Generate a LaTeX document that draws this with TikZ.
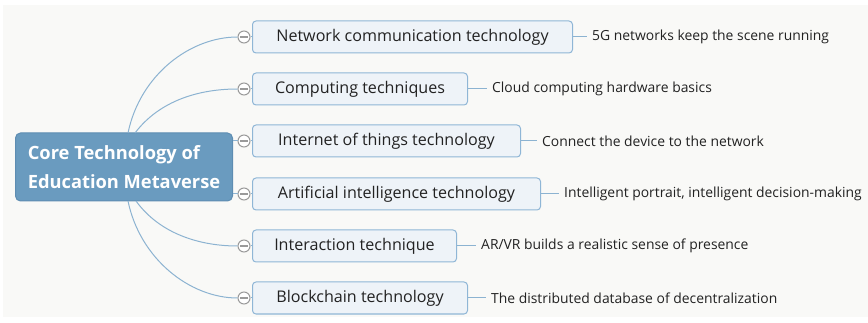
\documentclass[tikz,border=0pt]{standalone}
\usepackage{fontspec}
\setmainfont{Open Sans}
\usetikzlibrary{calc}
\definecolor{pagebg}{HTML}{F9F9F7}
\definecolor{rootfill}{HTML}{6A9BBF}
\definecolor{rootline}{HTML}{5E8DB2}
\definecolor{boxfill}{HTML}{EEF3F8}
\definecolor{boxline}{HTML}{8FB6D6}
\definecolor{wire}{HTML}{8CB3D1}
\definecolor{knob}{HTML}{9A9A9A}
\definecolor{ink}{HTML}{222222}
\tikzset{
  rootbox/.style={draw=rootline, line width=1pt, fill=rootfill, rounded corners=5pt,
    minimum width=217pt, minimum height=68pt, inner sep=0pt, text=white,
    font=\fontsize{18.3}{29}\selectfont\bfseries, align=left},
  branch/.style={draw=boxline, line width=1pt, fill=boxfill, rounded corners=3.5pt,
    minimum height=32pt, inner sep=0pt, anchor=west, text=ink,
    font=\fontsize{16.1}{18}\selectfont},
  leaf/.style={anchor=west, inner sep=0pt, text=ink, font=\fontsize{13.9}{15}\selectfont},
  knobc/.style={circle, draw=knob, line width=1pt, fill=white, minimum size=12pt, inner sep=0pt,
    path picture={\draw[knob, line width=1.1pt] ($(path picture bounding box.west)+(2pt,0)$) -- ($(path picture bounding box.east)+(-2pt,0)$);}},
  wireline/.style={draw=wire, line width=1pt},
  leafline/.style={draw=wire, line width=1pt},
}
\begin{document}
\begin{tikzpicture}[x=1pt, y=-1pt]
\useasboundingbox (0,0) rectangle (868,323);
\fill[pagebg] (3,5) rectangle (868,317);

% central topic
\node[rootbox] (root) at (124,167) {Core Technology of\\Education Metaverse};

% collapse knobs
\node[knobc] (k1) at (244,37) {};
\node[knobc] (k2) at (244,89) {};
\node[knobc] (k3) at (244,141) {};
\node[knobc] (k4) at (244,194) {};
\node[knobc] (k5) at (244,246) {};
\node[knobc] (k6) at (244,298) {};

% branch topics
\node[branch, minimum width=320pt] (b1) at (252,37) {Network communication technology};
\node[branch, minimum width=215pt] (b2) at (252,89) {Computing techniques};
\node[branch, minimum width=268pt] (b3) at (252,141) {Internet of things technology};
\node[branch, minimum width=288pt] (b4) at (252,194) {Artificial intelligence technology};
\node[branch, minimum width=204pt] (b5) at (252,246) {Interaction technique};
\node[branch, minimum width=215pt] (b6) at (252,298) {Blockchain technology};

% curved links from the central topic
\coordinate (r1) at (128,133);
\coordinate (r2) at (135,133);
\coordinate (r5) at (136,201);
\coordinate (r6) at (128,201);
\draw[wireline] (r1) .. controls (140,75) and (190,37) .. (k1.west);
\draw[wireline] (r2) .. controls (160,100) and (200,89) .. (k2.west);
\draw[wireline] (root.east |- k3) -- (k3.west);
\draw[wireline] (root.east |- k4) -- (k4.west);
\draw[wireline] (r5) .. controls (160,234) and (200,246) .. (k5.west);
\draw[wireline] (r6) .. controls (140,259) and (190,298) .. (k6.west);
\foreach \i in {1,...,6} { \draw[wireline] (k\i.east) -- (b\i.west); }

% details
\node[leaf] (l1) at ($(b1.east)+(19,0)$) {5G networks keep the scene running};
\node[leaf] (l2) at ($(b2.east)+(24,0)$) {Cloud computing hardware basics};
\node[leaf] (l3) at ($(b3.east)+(21,0)$) {Connect the device to the network};
\node[leaf] (l4) at ($(b4.east)+(23,0)$) {Intelligent portrait, intelligent decision-making};
\node[leaf] (l5) at ($(b5.east)+(24,0)$) {AR/VR builds a realistic sense of presence};
\node[leaf] (l6) at ($(b6.east)+(23,0)$) {The distributed database of decentralization};
\foreach \i in {1,...,6} { \draw[leafline] (b\i.east) -- ($(l\i.west)+(-5,0)$); }
\end{tikzpicture}
\end{document}
